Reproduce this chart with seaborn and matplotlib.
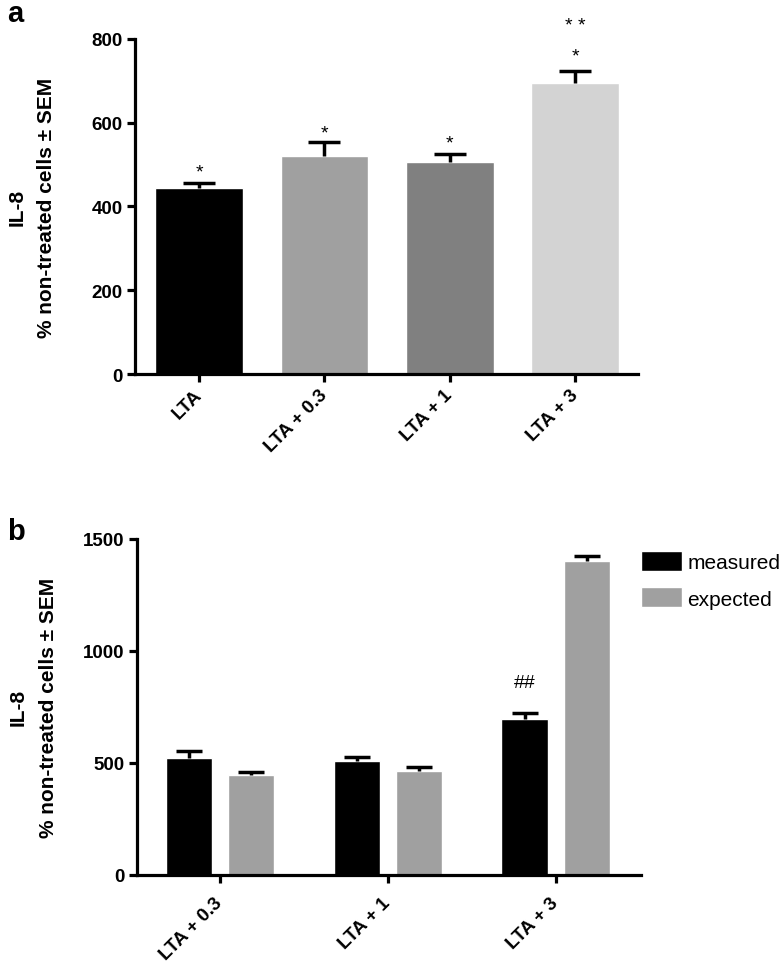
import pandas as pd
import seaborn as sns
import matplotlib.pyplot as plt

# panel a: IL-8 por tratamiento
tratamientos = ["LTA", "LTA + 0.3", "LTA + 1", "LTA + 3"]
il8_media = [443, 520, 507, 696]
il8_sem = [14, 33, 18, 27]
colores_a = ["#000000", "#a0a0a0", "#808080", "#d3d3d3"]

# panel b: medido vs esperado
combinaciones = ["LTA + 0.3", "LTA + 1", "LTA + 3"]
medido = [520, 507, 696]
medido_sem = [33, 18, 27]
esperado = [447, 465, 1403]
esperado_sem = [10, 18, 20]
tipos = ["measured", "expected"]
colores_b = ["#000000", "#a0a0a0"]

sns.set_style("ticks")
plt.rcParams["font.family"] = ["Liberation Sans", "DejaVu Sans"]
plt.rcParams["text.color"] = "black"
plt.rcParams["xtick.color"] = "black"
plt.rcParams["ytick.color"] = "black"
plt.rcParams["axes.labelcolor"] = "black"

fig = plt.figure(figsize=(7.8, 9.7), dpi=100)
ax_a = fig.add_axes([0.1731, 0.6134, 0.6449, 0.3454])
ax_b = fig.add_axes([0.1756, 0.0972, 0.646, 0.3461])


def estilo(ax):
    sns.despine(ax=ax)
    for lado in ["left", "bottom"]:
        ax.spines[lado].set_linewidth(2.3)
        ax.spines[lado].set_color("black")
    ax.tick_params(axis="both", length=6, width=2.3, color="black",
                   labelcolor="black", pad=3)
    for t in ax.get_yticklabels():
        t.set_fontsize(13.5)
        t.set_fontweight("bold")
    ax.set_xlabel("")
    ax.set_ylabel("")
    ax.text(-0.235, 0.5, "IL-8", transform=ax.transAxes, rotation=90,
            ha="center", va="center", fontsize=15, fontweight="bold")
    ax.text(-0.175, 0.5, "% non-treated cells ± SEM", transform=ax.transAxes,
            rotation=90, ha="center", va="center", fontsize=15, fontweight="bold")


def etiquetas_x(ax, nombres, pad):
    ax.set_xticks(range(len(nombres)))
    ax.set_xticklabels(nombres, rotation=45, ha="right", va="center",
                       rotation_mode="anchor", fontsize=13.5, fontweight="bold")
    ax.tick_params(axis="x", pad=pad)


def barras_error(ax, xs, vals, sems, capsize):
    # solo la mitad superior, como en el original
    tops = [v + s for v, s in zip(vals, sems)]
    ax.vlines(xs, vals, tops, color="black", linewidth=2.5, zorder=5)
    ax.plot(xs, tops, linestyle="none", marker="_", markersize=capsize * 2,
            markeredgewidth=2.5, color="black", zorder=5)


# ---------------- panel a ----------------
df_a = pd.DataFrame({"tratamiento": tratamientos, "il8": il8_media})
sns.barplot(data=df_a, x="tratamiento", y="il8", hue="tratamiento",
            palette=colores_a, width=0.7, legend=False, errorbar=None, ax=ax_a)
barras_error(ax_a, list(range(len(tratamientos))), il8_media, il8_sem, 11.5)
ax_a.set_ylim(0, 800)
ax_a.set_yticks([0, 200, 400, 600, 800])
ax_a.set_xlim(-0.51, 3.5)
estilo(ax_a)
etiquetas_x(ax_a, tratamientos, 7)

# asteriscos (indice, texto, desplazamiento en puntos sobre el error)
marcas_a = [(0, "*", 8), (1, "*", 7), (2, "*", 8), (3, "*", 11), (3, "* *", 33)]
for i, txt, off in marcas_a:
    ax_a.annotate(txt, (i, il8_media[i] + il8_sem[i]), xytext=(0, off),
                  textcoords="offset points", ha="center", va="center",
                  fontsize=14)

# ---------------- panel b ----------------
df_b = pd.DataFrame({
    "combinacion": combinaciones * 2,
    "il8": medido + esperado,
    "tipo": [tipos[0]] * len(medido) + [tipos[1]] * len(esperado),
})
sns.barplot(data=df_b, x="combinacion", y="il8", hue="tipo", palette=colores_b,
            width=0.74, gap=0.25, errorbar=None, ax=ax_b)

errores = [medido_sem, esperado_sem]
valores = [medido, esperado]
centros_medido = []
for cont, vals, sems in zip(ax_b.containers, valores, errores):
    xs = [b.get_x() + b.get_width() / 2 for b in cont]
    barras_error(ax_b, xs, vals, sems, 9.5)
    if not centros_medido:
        centros_medido = xs

ax_b.annotate("##", (centros_medido[2], medido[2] + medido_sem[2]),
              xytext=(0, 22), textcoords="offset points", ha="center",
              va="center", fontsize=14)

ax_b.set_ylim(0, 1500)
ax_b.set_yticks([0, 500, 1000, 1500])
ax_b.set_xlim(-0.494, 2.506)
estilo(ax_b)
etiquetas_x(ax_b, combinaciones, 12)

handles, labels = ax_b.get_legend_handles_labels()
ax_b.legend(handles, labels, loc="upper left", bbox_to_anchor=(1.0, 0.965),
            frameon=False, fontsize=15, handlelength=1.97, handleheight=1.1,
            handletextpad=0.25, labelspacing=0.75, borderpad=0,
            borderaxespad=0)

fig.text(0.009, 0.986, "a", fontsize=21, fontweight="bold", ha="left", va="center")
fig.text(0.009, 0.452, "b", fontsize=21, fontweight="bold", ha="left", va="center")

fig.savefig("out.png", dpi=100)
